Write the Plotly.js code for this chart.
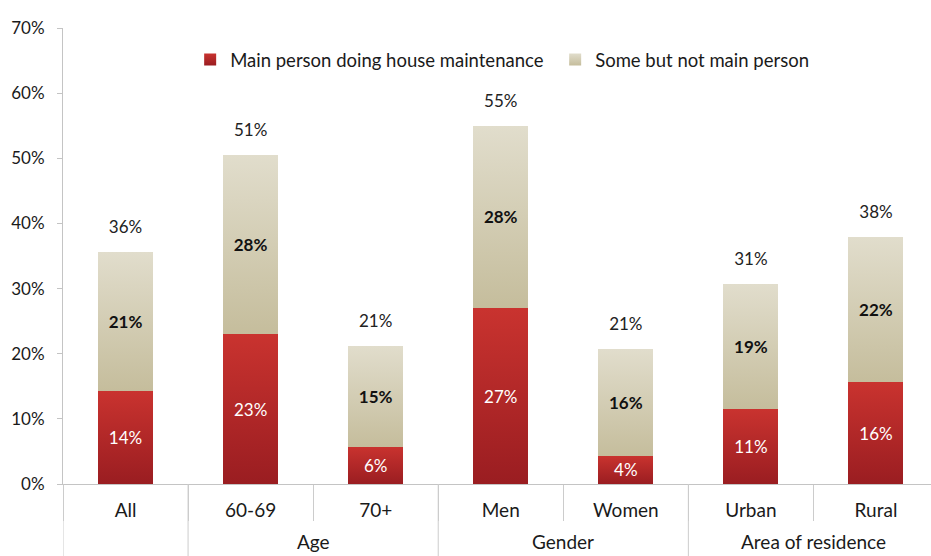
<!DOCTYPE html>
<html>
<head>
<meta charset="utf-8">
<script src="https://cdn.plot.ly/plotly-3.0.1.min.js"></script>
<style>
html, body { margin: 0; padding: 0; background: #ffffff; }
#chart { width: 931px; height: 556px; }
</style>
</head>
<body>
<div id="chart"></div>
<script>
// ---- data ----
const groups = ["", "Age", "Age", "Gender", "Gender", "Area of residence", "Area of residence"];
const categories = ["All", "60-69", "70+", "Men", "Women", "Urban", "Rural"];
const mainPerson = [14.3, 23.0, 5.7, 27.0, 4.3, 11.5, 15.6];
const someNotMain = [21.3, 27.5, 15.5, 28.0, 16.4, 19.2, 22.3];
const mainLabels = ["14%", "23%", "6%", "27%", "4%", "11%", "16%"];
const someLabels = ["21%", "28%", "15%", "28%", "16%", "19%", "22%"];
const totalLabels = ["36%", "51%", "21%", "55%", "21%", "31%", "38%"];
const seriesNames = ["Main person doing house maintenance", "Some but not main person"];
const yTickVals = [0, 10, 20, 30, 40, 50, 60, 70];
const yTickText = ["0%", "10%", "20%", "30%", "40%", "50%", "60%", "70%"];

// ---- chart ----
const FONT = "Lato, 'Open Sans', sans-serif";
const TEXT = "#1a1a1a";
const LINE = "#cccccc";
const totals = mainPerson.map((v, i) => v + someNotMain[i]);

const traces = [
  {
    type: "bar",
    name: seriesNames[0],
    x: categories,
    y: mainPerson,
    text: mainLabels,
    texttemplate: "%{text}",
    textposition: "inside",
    insidetextanchor: "middle",
    textangle: 0,
    textfont: { family: FONT, size: 17, color: "#ffffff" },
    marker: { color: "#b2282a", line: { width: 0 } },
    hoverinfo: "skip"
  },
  {
    type: "bar",
    name: seriesNames[1],
    x: categories,
    y: someNotMain,
    text: someLabels,
    texttemplate: "<b>%{text}</b>",
    textposition: "inside",
    insidetextanchor: "middle",
    textangle: 0,
    textfont: { family: FONT, size: 17, color: "#111111" },
    marker: { color: "#d3cdb3", line: { width: 0 } },
    hoverinfo: "skip"
  },
  {
    type: "scatter",
    mode: "markers+text",
    x: categories,
    y: totals,
    text: totalLabels,
    textposition: "top center",
    textfont: { family: FONT, size: 17, color: "#222222" },
    marker: { size: 22, color: "rgba(0,0,0,0)" },
    showlegend: false,
    hoverinfo: "skip",
    cliponaxis: false
  }
];

// group dividers and group labels, derived from the groups array
const dividerPos = [-0.5];
for (let i = 1; i < groups.length; i++) {
  if (groups[i] !== groups[i - 1]) dividerPos.push(i - 0.5);
}
dividerPos.push(groups.length - 0.5);
const shapes = dividerPos.map(p => ({
  type: "line", xref: "x", yref: "paper",
  x0: p, x1: p, y0: 0, y1: -0.25,
  line: { color: LINE, width: 1 }
}));
const annotations = [];
let start = 0;
for (let i = 1; i <= groups.length; i++) {
  if (i === groups.length || groups[i] !== groups[start]) {
    if (groups[start]) {
      annotations.push({
        xref: "x", yref: "paper",
        x: (start + i - 1) / 2, y: -0.126,
        xanchor: "center", yanchor: "middle",
        text: groups[start], showarrow: false,
        font: { family: FONT, size: 19, color: TEXT }
      });
    }
    start = i;
  }
}

const layout = {
  width: 931,
  height: 556,
  margin: { l: 63, r: 0, t: 28, b: 72 },
  paper_bgcolor: "#ffffff",
  plot_bgcolor: "#ffffff",
  font: { family: FONT, size: 17, color: TEXT },
  barmode: "stack",
  bargap: 0.56,
  showlegend: true,
  legend: {
    orientation: "h",
    x: 0.1465,
    xanchor: "left",
    y: 0.93,
    yanchor: "middle",
    font: { family: FONT, size: 18.5, color: TEXT },
    bgcolor: "rgba(0,0,0,0)",
    entrywidth: 320,
    traceorder: "normal"
  },
  xaxis: {
    type: "category",
    range: [-0.5, 6.44],
    showline: true,
    linecolor: "#c4c4c4",
    linewidth: 1,
    ticks: "outside",
    tickson: "boundaries",
    ticklen: 36,
    tickcolor: LINE,
    ticklabelstandoff: 9,
    showgrid: false,
    zeroline: false,
    tickfont: { family: FONT, size: 19, color: TEXT }
  },
  yaxis: {
    range: [0, 70],
    tickvals: yTickVals,
    ticktext: yTickText,
    showline: true,
    linecolor: "#c4c4c4",
    linewidth: 1,
    ticks: "outside",
    ticklen: 5,
    tickcolor: "#c4c4c4",
    ticklabelstandoff: 9,
    showgrid: false,
    zeroline: false,
    tickfont: { family: FONT, size: 17, color: TEXT }
  },
  shapes: shapes,
  annotations: annotations
};

Plotly.newPlot("chart", traces, layout, { staticPlot: true, displayModeBar: false }).then(function () {
  // vertical gradient fills for the bars, as in the original
  const svgNS = "http://www.w3.org/2000/svg";
  const svg = document.querySelector("#chart .main-svg");
  if (!svg) return;
  let defs = svg.querySelector("defs");
  if (!defs) { defs = document.createElementNS(svgNS, "defs"); svg.insertBefore(defs, svg.firstChild); }
  function addGrad(id, top, bottom) {
    const g = document.createElementNS(svgNS, "linearGradient");
    g.setAttribute("id", id);
    g.setAttribute("x1", "0"); g.setAttribute("y1", "0");
    g.setAttribute("x2", "0"); g.setAttribute("y2", "1");
    [[0, top], [1, bottom]].forEach(function (s) {
      const st = document.createElementNS(svgNS, "stop");
      st.setAttribute("offset", String(s[0]));
      st.setAttribute("stop-color", s[1]);
      g.appendChild(st);
    });
    defs.appendChild(g);
  }
  addGrad("gradMain", "#c9332f", "#9a1d21");
  addGrad("gradSome", "#e1ddcc", "#c5bd9c");
  const fills = ["url(#gradMain)", "url(#gradSome)"];
  document.querySelectorAll("#chart .barlayer .trace").forEach(function (t, i) {
    t.querySelectorAll(".point path").forEach(function (p) { if (fills[i]) p.style.fill = fills[i]; });
  });
  document.querySelectorAll("#chart .legend .traces").forEach(function (t, i) {
    t.querySelectorAll(".legendpoints path").forEach(function (p) { if (fills[i]) p.style.fill = fills[i]; });
  });
});
</script>
</body>
</html>
